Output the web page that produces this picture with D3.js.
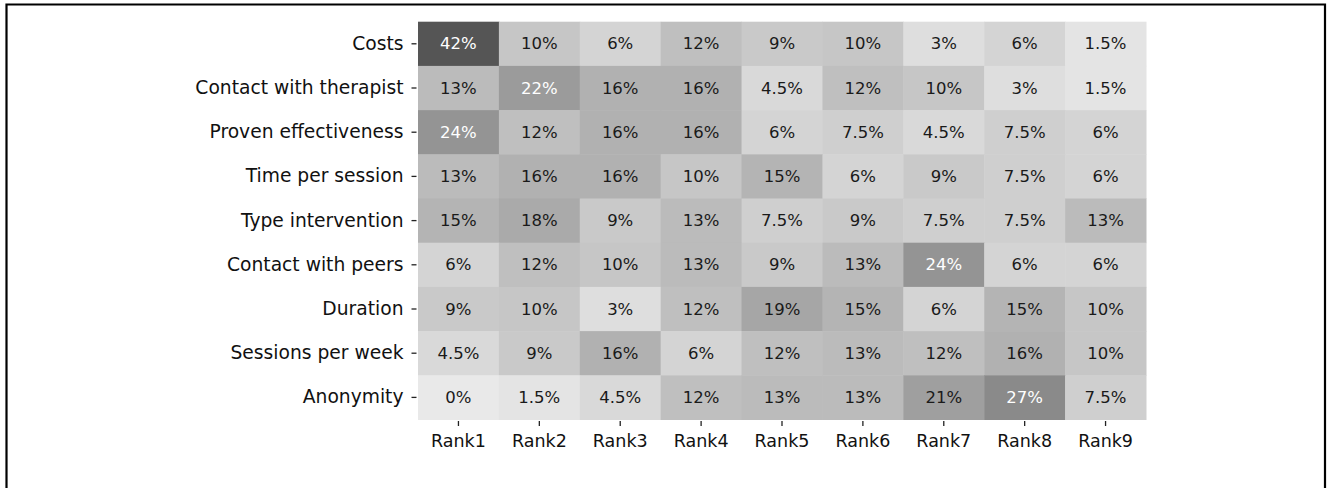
<!DOCTYPE html>
<html>
<head>
<meta charset="utf-8">
<script src="https://cdn.jsdelivr.net/npm/d3@7"></script>
<style>
html, body { margin: 0; padding: 0; background: #fff; }
svg { display: block; }
text { font-family: "DejaVu Sans", sans-serif; }
</style>
</head>
<body>
<svg id="chart" width="1329" height="488"></svg>
<script>
const attributes = ["Costs", "Contact with therapist", "Proven effectiveness", "Time per session",
  "Type intervention", "Contact with peers", "Duration", "Sessions per week", "Anonymity"];
const ranks = ["Rank1", "Rank2", "Rank3", "Rank4", "Rank5", "Rank6", "Rank7", "Rank8", "Rank9"];

const costs = [42, 10, 6, 12, 9, 10, 3, 6, 1.5];
const contactTherapist = [13, 22, 16, 16, 4.5, 12, 10, 3, 1.5];
const provenEffectiveness = [24, 12, 16, 16, 6, 7.5, 4.5, 7.5, 6];
const timePerSession = [13, 16, 16, 10, 15, 6, 9, 7.5, 6];
const typeIntervention = [15, 18, 9, 13, 7.5, 9, 7.5, 7.5, 13];
const contactPeers = [6, 12, 10, 13, 9, 13, 24, 6, 6];
const duration = [9, 10, 3, 12, 19, 15, 6, 15, 10];
const sessionsPerWeek = [4.5, 9, 16, 6, 12, 13, 12, 16, 10];
const anonymity = [0, 1.5, 4.5, 12, 13, 13, 21, 27, 7.5];

const rows = [costs, contactTherapist, provenEffectiveness, timePerSession, typeIntervention,
  contactPeers, duration, sessionsPerWeek, anonymity];

const cells = [];
rows.forEach((r, i) => r.forEach((v, j) => cells.push({ row: attributes[i], col: ranks[j], v })));

(function () {
const svg = d3.select("#chart");
const W = 1329, H = 488;

// outer frame (open at bottom)
svg.append("path")
  .attr("d", `M6.5,${H} V4.5 H1325 V${H}`)
  .attr("fill", "none").attr("stroke", "#000").attr("stroke-width", 2.2);

const gLeft = 418, gRight = 1146, gTop = 21.7, gBottom = 419.5;

const x = d3.scaleBand().domain(ranks).range([gLeft, gRight]).padding(0);
const y = d3.scaleBand().domain(attributes).range([gTop, gBottom]).padding(0);
const color = d3.scaleLinear().domain([0, 42]).range(["#e9e9e9", "#555555"]);
const whiteThreshold = 21.5;

svg.append("g").selectAll("rect").data(cells).join("rect")
  .attr("x", d => x(d.col)).attr("y", d => y(d.row))
  .attr("width", x.bandwidth() + 0.5).attr("height", y.bandwidth() + 0.5)
  .attr("fill", d => color(d.v));

svg.append("g").selectAll("text").data(cells).join("text")
  .attr("x", d => x(d.col) + x.bandwidth() / 2)
  .attr("y", d => y(d.row) + y.bandwidth() / 2)
  .attr("text-anchor", "middle").attr("dominant-baseline", "central")
  .attr("font-size", 16.5)
  .attr("fill", d => d.v > whiteThreshold ? "#ffffff" : "#1a1a1a")
  .text(d => d.v + "%");

const xAxis = svg.append("g").attr("transform", `translate(0,${gBottom + 1.5})`)
  .call(d3.axisBottom(x).tickSize(5).tickPadding(9));
const yAxis = svg.append("g").attr("transform", `translate(${gLeft - 1.5},0)`)
  .call(d3.axisLeft(y).tickSize(5).tickPadding(8));
[xAxis, yAxis].forEach(a => {
  a.select(".domain").remove();
  a.selectAll(".tick line").attr("stroke", "#222").attr("stroke-width", 1.3);
  a.selectAll(".tick text").attr("fill", "#111")
    .attr("font-family", "DejaVu Sans, sans-serif");
});
xAxis.selectAll(".tick text").attr("font-size", 17.5);
yAxis.selectAll(".tick text").attr("font-size", 18.7);
})();
</script>
</body>
</html>
